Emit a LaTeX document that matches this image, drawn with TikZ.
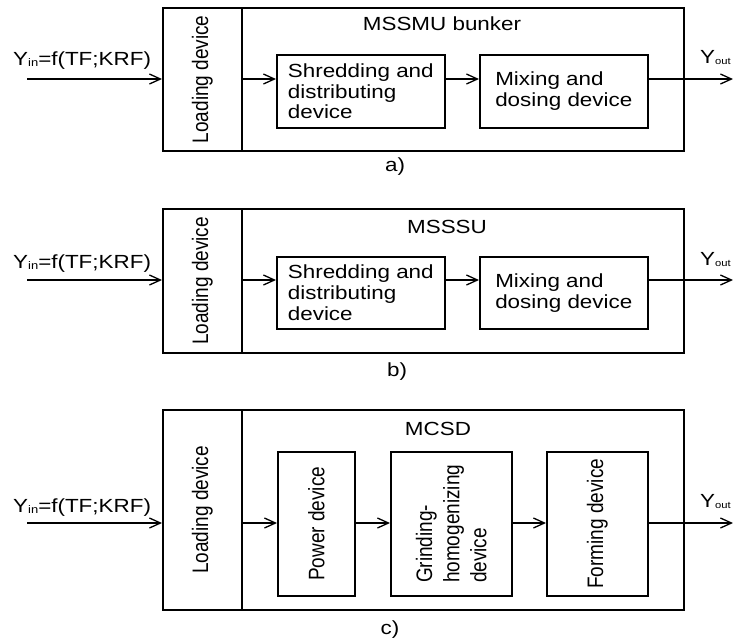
\documentclass[tikz,border=0pt]{standalone}
\usepackage{fontspec}
\setmainfont{Liberation Sans}[FakeStretch=1.18]
\newfontfamily\rotfont{Liberation Sans}
\usetikzlibrary{arrows.meta}
\begin{document}
\begin{tikzpicture}[x=1pt,y=-1pt,
  blk/.style={draw, line width=1.6pt, inner sep=0pt, anchor=north west},
  arr/.style={line width=1.3pt, -{Straight Barb[length=11pt,width=10pt,line width=1.3pt]}},
  ln/.style={line width=1.3pt},
  txt/.style={font=\fontsize{19}{20.7}\selectfont, inner sep=0pt},
  rtxt/.style={font=\rotfont\fontsize{19}{23}\selectfont, rotate=90, yscale=1.18, inner sep=0pt},
  lbl/.style={txt, anchor=base west}]
\path[use as bounding box] (0,0) rectangle (733,641);
\newcommand\subtxt[1]{\raisebox{-1pt}{\fontsize{11}{11}\selectfont #1}}
\newcommand\outtxt[1]{\raisebox{-1pt}{\fontsize{9.5}{9.5}\selectfont #1}}
% ---------- panel a ----------
\node[blk, minimum width=79pt, minimum height=143pt] (la) at (162,7) {};
\node[rtxt] (lat) at (la.center) {Loading device};
\node[blk, minimum width=442pt, minimum height=143pt] (oa) at (241,7) {};
\node[txt] (ta) at (442,24) {MSSMU bunker};
\node[blk, minimum width=168pt, minimum height=73pt] (sa) at (276,54) {};
\node[txt, align=left] (sat) at (sa.center) {Shredding and\\distributing\\device};
\node[blk, minimum width=168pt, minimum height=73pt] (ma) at (479,54) {};
\node[txt, align=left] (mat) at (ma.center) {Mixing and\\dosing device};
\coordinate (ina) at (27,79);
\coordinate (outa) at (733,79);
\draw[arr] (ina) -- (la.west |- ina);
\draw[arr] (la.east |- ina) -- (sa.west |- ina);
\draw[arr] (sa.east |- ina) -- (ma.west |- ina);
\draw[arr] (ma.east |- ina) -- (outa);
\node[lbl] (yina) at (13,65) {Y\subtxt{in}=f(TF;KRF)};
\node[lbl] (youta) at (700,63) {Y\outtxt{out}};
\node[txt] (capa) at (395,167) {a)};
% ---------- panel b ----------
\node[blk, minimum width=79pt, minimum height=144pt] (lb) at (162,208) {};
\node[rtxt] (lbt) at (lb.center) {Loading device};
\node[blk, minimum width=442pt, minimum height=144pt] (ob) at (241,208) {};
\node[txt] (tb) at (447,227) {MSSSU};
\node[blk, minimum width=168pt, minimum height=72pt] (sb) at (276,256) {};
\node[txt, align=left] (sbt) at (sb.center) {Shredding and\\distributing\\device};
\node[blk, minimum width=168pt, minimum height=72pt] (mb) at (479,256) {};
\node[txt, align=left] (mbt) at (mb.center) {Mixing and\\dosing device};
\coordinate (inb) at (27,280);
\coordinate (outb) at (733,280);
\draw[arr] (inb) -- (lb.west |- inb);
\draw[arr] (lb.east |- inb) -- (sb.west |- inb);
\draw[arr] (sb.east |- inb) -- (mb.west |- inb);
\draw[arr] (mb.east |- inb) -- (outb);
\node[lbl] (yinb) at (13,268) {Y\subtxt{in}=f(TF;KRF)};
\node[lbl] (youtb) at (700,265) {Y\outtxt{out}};
\node[txt] (capb) at (397,372) {b)};
% ---------- panel c ----------
\node[blk, minimum width=79pt, minimum height=200pt] (lc) at (162,409) {};
\node[rtxt] (lct) at (lc.center) {Loading device};
\node[blk, minimum width=442pt, minimum height=200pt] (oc) at (241,409) {};
\node[txt] (tc) at (438,429) {MCSD};
\node[blk, minimum width=77pt, minimum height=144pt] (pc) at (277,451) {};
\node[rtxt] (pct) at (pc.center) {Power device};
\node[blk, minimum width=121pt, minimum height=144pt] (gc) at (390,451) {};
\node[rtxt, align=left] (gct) at (gc.center) {Grinding-\\homogenizing\\device};
\node[blk, minimum width=101pt, minimum height=144pt] (fc) at (546,451) {};
\node[rtxt] (fct) at (fc.center) {Forming device};
\coordinate (inc) at (27,523);
\coordinate (outc) at (733,523);
\draw[arr] (inc) -- (lc.west |- inc);
\draw[arr] (lc.east |- inc) -- (pc.west |- inc);
\draw[arr] (pc.east |- inc) -- (gc.west |- inc);
\draw[arr] (gc.east |- inc) -- (fc.west |- inc);
\draw[arr] (fc.east |- inc) -- (outc);
\node[lbl] (yinc) at (13,512) {Y\subtxt{in}=f(TF;KRF)};
\node[lbl] (youtc) at (700,507) {Y\outtxt{out}};
\node[txt] (capc) at (390,630) {c)};
\end{tikzpicture}
\end{document}
